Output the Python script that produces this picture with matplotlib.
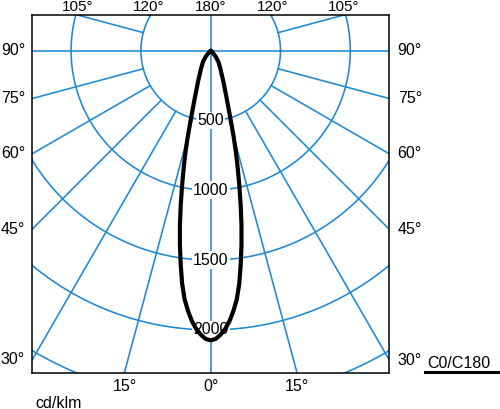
import numpy as np
import matplotlib
matplotlib.use("Agg")
import matplotlib.pyplot as plt
from matplotlib.lines import Line2D
from matplotlib.transforms import blended_transform_factory

plt.rcParams['font.family'] = ['Liberation Sans', 'DejaVu Sans']

# ---- data ----
gamma_deg = [0, 1, 2, 3, 4, 5, 6, 7, 8, 9, 10, 11, 12, 13, 14, 15, 16, 17, 18, 19,
             20, 22.5, 25, 27.5, 30, 35, 40, 45, 50, 55]
intensity = [2075, 2065, 2035, 1995, 1940, 1870, 1790, 1680, 1545, 1410, 1270, 1125,
             985, 860, 745, 630, 525, 445, 385, 340, 300, 235, 185, 155, 130, 95, 55,
             20, 5, 0]
ring_values = [500, 1000, 1500, 2000, 2500, 3000, 3500]
ring_labels = [500, 1000, 1500, 2000]
spoke_angles = [15, 30, 45, 60, 75, 105, 120, 135, 150, 165]
label_angles = [0, 15, 30, 45, 60, 75, 90, 105, 120, 180]
unit_label = "cd/klm"
curve_label = "C0/C180"

GRID = '#1e88d6'
GLW = 1.15

fig = plt.figure(figsize=(5.0, 4.09), dpi=100)
L, R, T, B = 32.3, 389.3, 15.0, 372.7
ax = fig.add_axes([L / 500, (409 - B) / 409, (R - L) / 500, (B - T) / 409])

cx, cy = 210.7, 50.7          # centre in pixels
s = 500 / 69.8                # cd/klm per pixel
xmin, xmax = -(cx - L) * s, (R - cx) * s
ymin, ymax = -(B - cy) * s, (cy - T) * s
ax.set_xlim(xmin, xmax)
ax.set_ylim(ymin, ymax)
ax.set_xticks([])
ax.set_yticks([])
for sp in ax.spines.values():
    sp.set_linewidth(1.1)
    sp.set_color('black')
    sp.set_zorder(4)

# rings
th = np.linspace(0, 2 * np.pi, 721)
for r in ring_values:
    ax.plot(r * np.cos(th), r * np.sin(th), color=GRID, lw=GLW, zorder=1)

# axes through centre
big = 5000
ax.plot([0, 0], [-big, big], color=GRID, lw=GLW, zorder=1)
ax.plot([-big, big], [0, 0], color=GRID, lw=GLW, zorder=1)

# spokes from the 500 ring outward
for g in spoke_angles:
    gr = np.deg2rad(g)
    for side in (-1, 1):
        dx, dy = side * np.sin(gr), -np.cos(gr)
        ax.plot([500 * dx, big * dx], [500 * dy, big * dy], color=GRID, lw=GLW, zorder=1)

# ring labels
for v in ring_labels:
    ax.text(0, -v, str(v), ha='center', va='center', fontsize=11.5, zorder=2,
            bbox=dict(facecolor='white', edgecolor='none', pad=1.0))

# intensity curve (symmetric)
g = np.deg2rad(np.array(gamma_deg, dtype=float))
I = np.array(intensity, dtype=float)
gfull = np.concatenate([-g[::-1], g[1:]])
Ifull = np.concatenate([I[::-1], I[1:]])
ax.plot(Ifull * np.sin(gfull), -Ifull * np.cos(gfull), color='black', lw=3.0,
        zorder=3, solid_joinstyle='round', solid_capstyle='round')

# angle labels at box edges
ytr = ax.get_yaxis_transform()
xtr = ax.get_xaxis_transform()
topx = blended_transform_factory(ax.transData, fig.transFigure)
fs = 11.5
for a in label_angles:
    ar = np.deg2rad(a)
    sides = (1,) if a in (0, 180) else (-1, 1)
    for side in sides:
        dx, dy = side * np.sin(ar), -np.cos(ar)
        ts = []
        if dx > 1e-9:
            ts.append((xmax / dx, 'right'))
        if dx < -1e-9:
            ts.append((xmin / dx, 'left'))
        if dy > 1e-9:
            ts.append((ymax / dy, 'top'))
        if dy < -1e-9:
            ts.append((ymin / dy, 'bottom'))
        t, edge = min(ts, key=lambda z: z[0])
        px, py = t * dx, t * dy
        txt = f"{a}°"
        if edge == 'left':
            ax.text(-0.02, py, txt, transform=ytr, ha='right', va='center', fontsize=fs)
        elif edge == 'right':
            ax.text(1.0235, py, txt, transform=ytr, ha='left', va='center', fontsize=fs)
        elif edge == 'top':
            ax.text(px, 1 - 0.3 / 409, txt, transform=topx, ha='center', va='top',
                    fontsize=11)
        else:
            ax.text(px, -6 / 358, txt, transform=xtr, ha='center', va='top', fontsize=fs)

fig.text(35 / 500, 1 - 407.5 / 409, unit_label, ha='left', va='baseline', fontsize=fs)
fig.text(427.7 / 500, 1 - 367.7 / 409, curve_label, ha='left', va='baseline', fontsize=fs)
fig.add_artist(Line2D([425 / 500, 499 / 500], [1 - 372 / 409, 1 - 372 / 409],
                      color='black', lw=2.2, transform=fig.transFigure))

fig.savefig('out.png', dpi=100)
